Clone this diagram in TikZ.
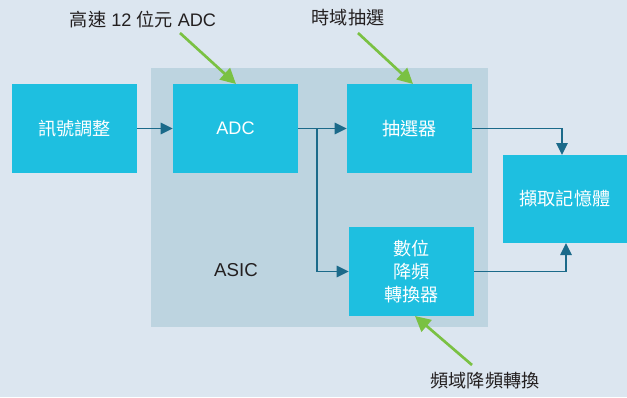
\documentclass[tikz,border=0pt]{standalone}
\usepackage{fontspec}
\setmainfont{Liberation Sans}
\newfontfamily\cjk{Noto Sans CJK TC}
\usetikzlibrary{arrows.meta}
\definecolor{bgc}{HTML}{DCE6F0}
\definecolor{asicc}{HTML}{BDD4E0}
\definecolor{boxc}{HTML}{1EBFE0}
\definecolor{linkc}{HTML}{1B6A8A}
\definecolor{greenc}{HTML}{7AC143}
\definecolor{txtc}{HTML}{231F20}
\begin{document}
\begin{tikzpicture}[x=0.75pt,y=-0.75pt,
  blockbox/.style={fill=boxc,draw=none,text=white,font=\fontsize{13.6}{17.3}\selectfont,align=center,inner sep=0pt},
  link/.style={draw=linkc,line width=1.2pt,-{Triangle[length=9pt,width=8.5pt]}},
  callout/.style={draw=greenc,line width=2pt,-{Triangle[length=11.5pt,width=11.5pt]}},
  lbl/.style={text=txtc,font=\fontsize{13.6}{16}\selectfont,inner sep=0pt}]
\fill[bgc] (0,0) rectangle (627,397);
\useasboundingbox (0,0) rectangle (627,397);
\fill[asicc] (151,68) rectangle (488,327);
\node[lbl,font=\fontsize{14}{16}\selectfont] (asic) at (236,270) {ASIC};
\node[blockbox,minimum width=93.75pt,minimum height=66.75pt] (sig) at (74.5,128.5) {\cjk 訊號調整};
\node[blockbox,minimum width=93.75pt,minimum height=66.75pt] (adc) at (235.5,128.5) {ADC};
\node[blockbox,minimum width=93.75pt,minimum height=66.75pt] (dec) at (409.5,128.5) {\cjk 抽選器};
\node[blockbox,minimum width=93.75pt,minimum height=66.75pt] (ddc) at (411.5,271.5) {\cjk 數位\\\cjk 降頻\\\cjk 轉換器};
\node[blockbox,minimum width=93pt,minimum height=66pt] (mem) at (565,199) {\cjk 擷取記憶體};
\coordinate (br) at (317,128.5);
\draw[link] (sig.east) -- (adc.west);
\draw[link] (adc.east) -- (dec.west);
\draw[link] (br) |- (ddc.west);
\draw[link] (dec.east) -| (562,155);
\draw[link] (ddc.east) -| (566,243);
\node[lbl] (l1) at (143,20) {{\cjk 高速} 12 {\cjk 位元} ADC};
\node[lbl] (l2) at (348,18) {\cjk 時域抽選};
\node[lbl] (l3) at (485,381) {\cjk 頻域降頻轉換};
\coordinate (t1) at (236,84);
\coordinate (t2) at (413,84);
\coordinate (t3) at (415,316);
\draw[callout] (180,33) -- (t1);
\draw[callout] (358,33) -- (t2);
\draw[callout] (472,365) -- (t3);
\end{tikzpicture}
\end{document}
